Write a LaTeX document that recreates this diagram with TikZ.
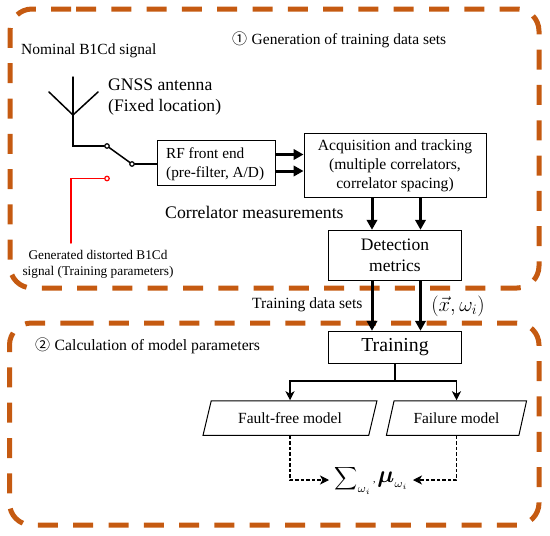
\documentclass[tikz,border=0pt]{standalone}
\usepackage{fontspec}
\usepackage{amsmath}
\setmainfont{Liberation Serif}
\newfontfamily\symfont{Noto Sans CJK SC}
\usetikzlibrary{arrows.meta,shapes.geometric}
\definecolor{frameor}{HTML}{C55A11}
\tikzset{
  x=1pt,y=-1pt,
  frame/.style={draw=frameor,line width=5pt,dash pattern=on 20pt off 15.3pt},
  box/.style={draw=black,line width=1pt,inner sep=0pt,align=center,rectangle},
  lab/.style={inner sep=0pt,align=center},
  lableft/.style={inner sep=0pt,align=left,anchor=west},
  model/.style={draw=black,line width=1pt,inner sep=0pt,shape=trapezium,trapezium left angle=64,trapezium right angle=116,trapezium stretches=true,minimum height=34.5pt},
  thickarrow/.style={line width=3pt,-{Triangle[length=10pt,width=10.5pt]}},
  wire/.style={line width=1.5pt,line cap=round},
  midarrow/.style={line width=1.6pt,-{Stealth[length=9pt,width=9pt,inset=2.5pt]}},
  dasharrow/.style={line width=1.3pt,dash pattern=on 3.5pt off 2pt,-{Stealth[length=9pt,width=9pt,inset=2.5pt,line width=1pt]}},
  terminal/.style={circle,draw=black,line width=1.2pt,fill=white,minimum size=4.5pt,inner sep=0pt},
}
\begin{document}
\begin{tikzpicture}
\useasboundingbox (0,0) rectangle (550,536);
% frames
\draw[frame] (76,9) -- (517,9) arc[start angle=-90,end angle=0,radius=22] -- (539,266) arc[start angle=0,end angle=90,radius=22] -- (32,288) arc[start angle=90,end angle=180,radius=22] -- (10,31) arc[start angle=180,end angle=270,radius=22] -- cycle;
\draw[frame] (73.5,323) -- (517,323) arc[start angle=-90,end angle=0,radius=22] -- (539,503) arc[start angle=0,end angle=90,radius=22] -- (31.5,525) arc[start angle=90,end angle=180,radius=22] -- (9.5,345) arc[start angle=180,end angle=270,radius=22] -- cycle;
% boxes
\node[box,minimum width=118.5pt,minimum height=45.5pt] (rf) at (216.5,163) {};
\node[lableft,font=\fontsize{15.3}{19}\selectfont] (rft) at (166,164.5) {RF front end\\(pre-filter, A/D)};
\node[box,minimum width=182pt,minimum height=64.5pt,font=\fontsize{15.6}{19}\selectfont] (acq) at (395,165.5) {Acquisition and tracking\\(multiple correlators,\\correlator spacing)};
\node[box,minimum width=133pt,minimum height=50.5pt,font=\fontsize{17.5}{21}\selectfont] (det) at (395,255.5) {Detection\\metrics};
\node[box,minimum width=133pt,minimum height=32.5pt,font=\fontsize{19.8}{21}\selectfont] (tr) at (395,347.5) {Training};
\node[model,minimum width=174pt,font=\fontsize{15.5}{17}\selectfont] (ff) at (290,418) {Fault-free model};
\node[model,minimum width=141pt,font=\fontsize{15.4}{17}\selectfont] (fm) at (456.5,418) {Failure model};
\node[lab,outer sep=5.5pt] (res) at (371,480) {\scalebox{1.6}{$\displaystyle\sum\nolimits_{\omega_i}$}\,,\,\scalebox{2.4}{$\boldsymbol{\mu}$}\raisebox{-5pt}{\scalebox{1.6}{$\scriptstyle\omega_i$}}};
% labels
\node[lableft,font=\fontsize{15.5}{17}\selectfont] (nom) at (21,51) {Nominal B1Cd signal};
\node[lableft,font=\fontsize{15.5}{17}\selectfont] (g1) at (232,39.5) {{\symfont\fontsize{15}{17}\selectfont ①}\hspace{4.5pt}Generation of training data sets};
\node[lableft,font=\fontsize{17.6}{21}\selectfont] (gn) at (108,97.5) {GNSS antenna\\(Fixed location)};
\node[lableft,font=\fontsize{17.7}{19}\selectfont] (cm) at (165,212) {Correlator measurements};
\node[lab,font=\fontsize{13.3}{16}\selectfont] (gd) at (98,264) {Generated distorted B1Cd\\signal (Training parameters)};
\node[lableft,font=\fontsize{15.6}{17}\selectfont] (tds) at (252,305) {Training data sets};
\node[lab,font=\fontsize{22}{26}\selectfont] (vec) at (458,306) {$\left(\vec{x},\omega_i\right)$};
\node[lableft,font=\fontsize{15.7}{17}\selectfont] (g2) at (35,346) {{\symfont\fontsize{15}{17}\selectfont ②}\hspace{4.5pt}Calculation of model parameters};
% antenna
\coordinate (atop) at (73,77);
\coordinate (ajoin) at (73,115);
\coordinate (al) at (49,92);
\coordinate (ar) at (98,92);
\coordinate (abot) at (73,146);
\node[terminal,minimum size=4.5pt] (s1) at (107,146) {};
\node[terminal] (s2) at (132,164) {};
\node[terminal,draw=red] (s3) at (107,178.5) {};
\coordinate (rbot) at (71,243);
\coordinate (rtop) at (71,178.5);
\draw[wire] (atop) -- (abot) -- (s1);
\draw[wire] (al) -- (ajoin) -- (ar);
\draw[wire] (s1) -- (s2);
\draw[wire] (s2) -- (rf.west |- s2);
\draw[wire,draw=red] (rbot) -- (rtop) -- (s3);
% arrows
\coordinate (h1) at (0,154.5);
\coordinate (h2) at (0,171);
\coordinate (v1) at (372,0);
\coordinate (v2) at (420.5,0);
\draw[thickarrow] (rf.east |- h1) -- (acq.west |- h1);
\draw[thickarrow] (rf.east |- h2) -- (acq.west |- h2);
\draw[thickarrow] (acq.south -| v1) -- (det.north -| v1);
\draw[thickarrow] (acq.south -| v2) -- (det.north -| v2);
\draw[thickarrow] (det.south -| v1) -- (tr.north -| v1);
\draw[thickarrow] (det.south -| v2) -- (tr.north -| v2);
\coordinate (bus) at (395,381);
\draw[line width=1.6pt] (tr.south) -- (bus);
\draw[midarrow] (bus) -| (ff.north);
\draw[midarrow] (bus) -| (fm.north);
\draw[dasharrow] (ff.south) |- (res.west);
\draw[dasharrow] (fm.south) |- (res.east);
\end{tikzpicture}
\end{document}
